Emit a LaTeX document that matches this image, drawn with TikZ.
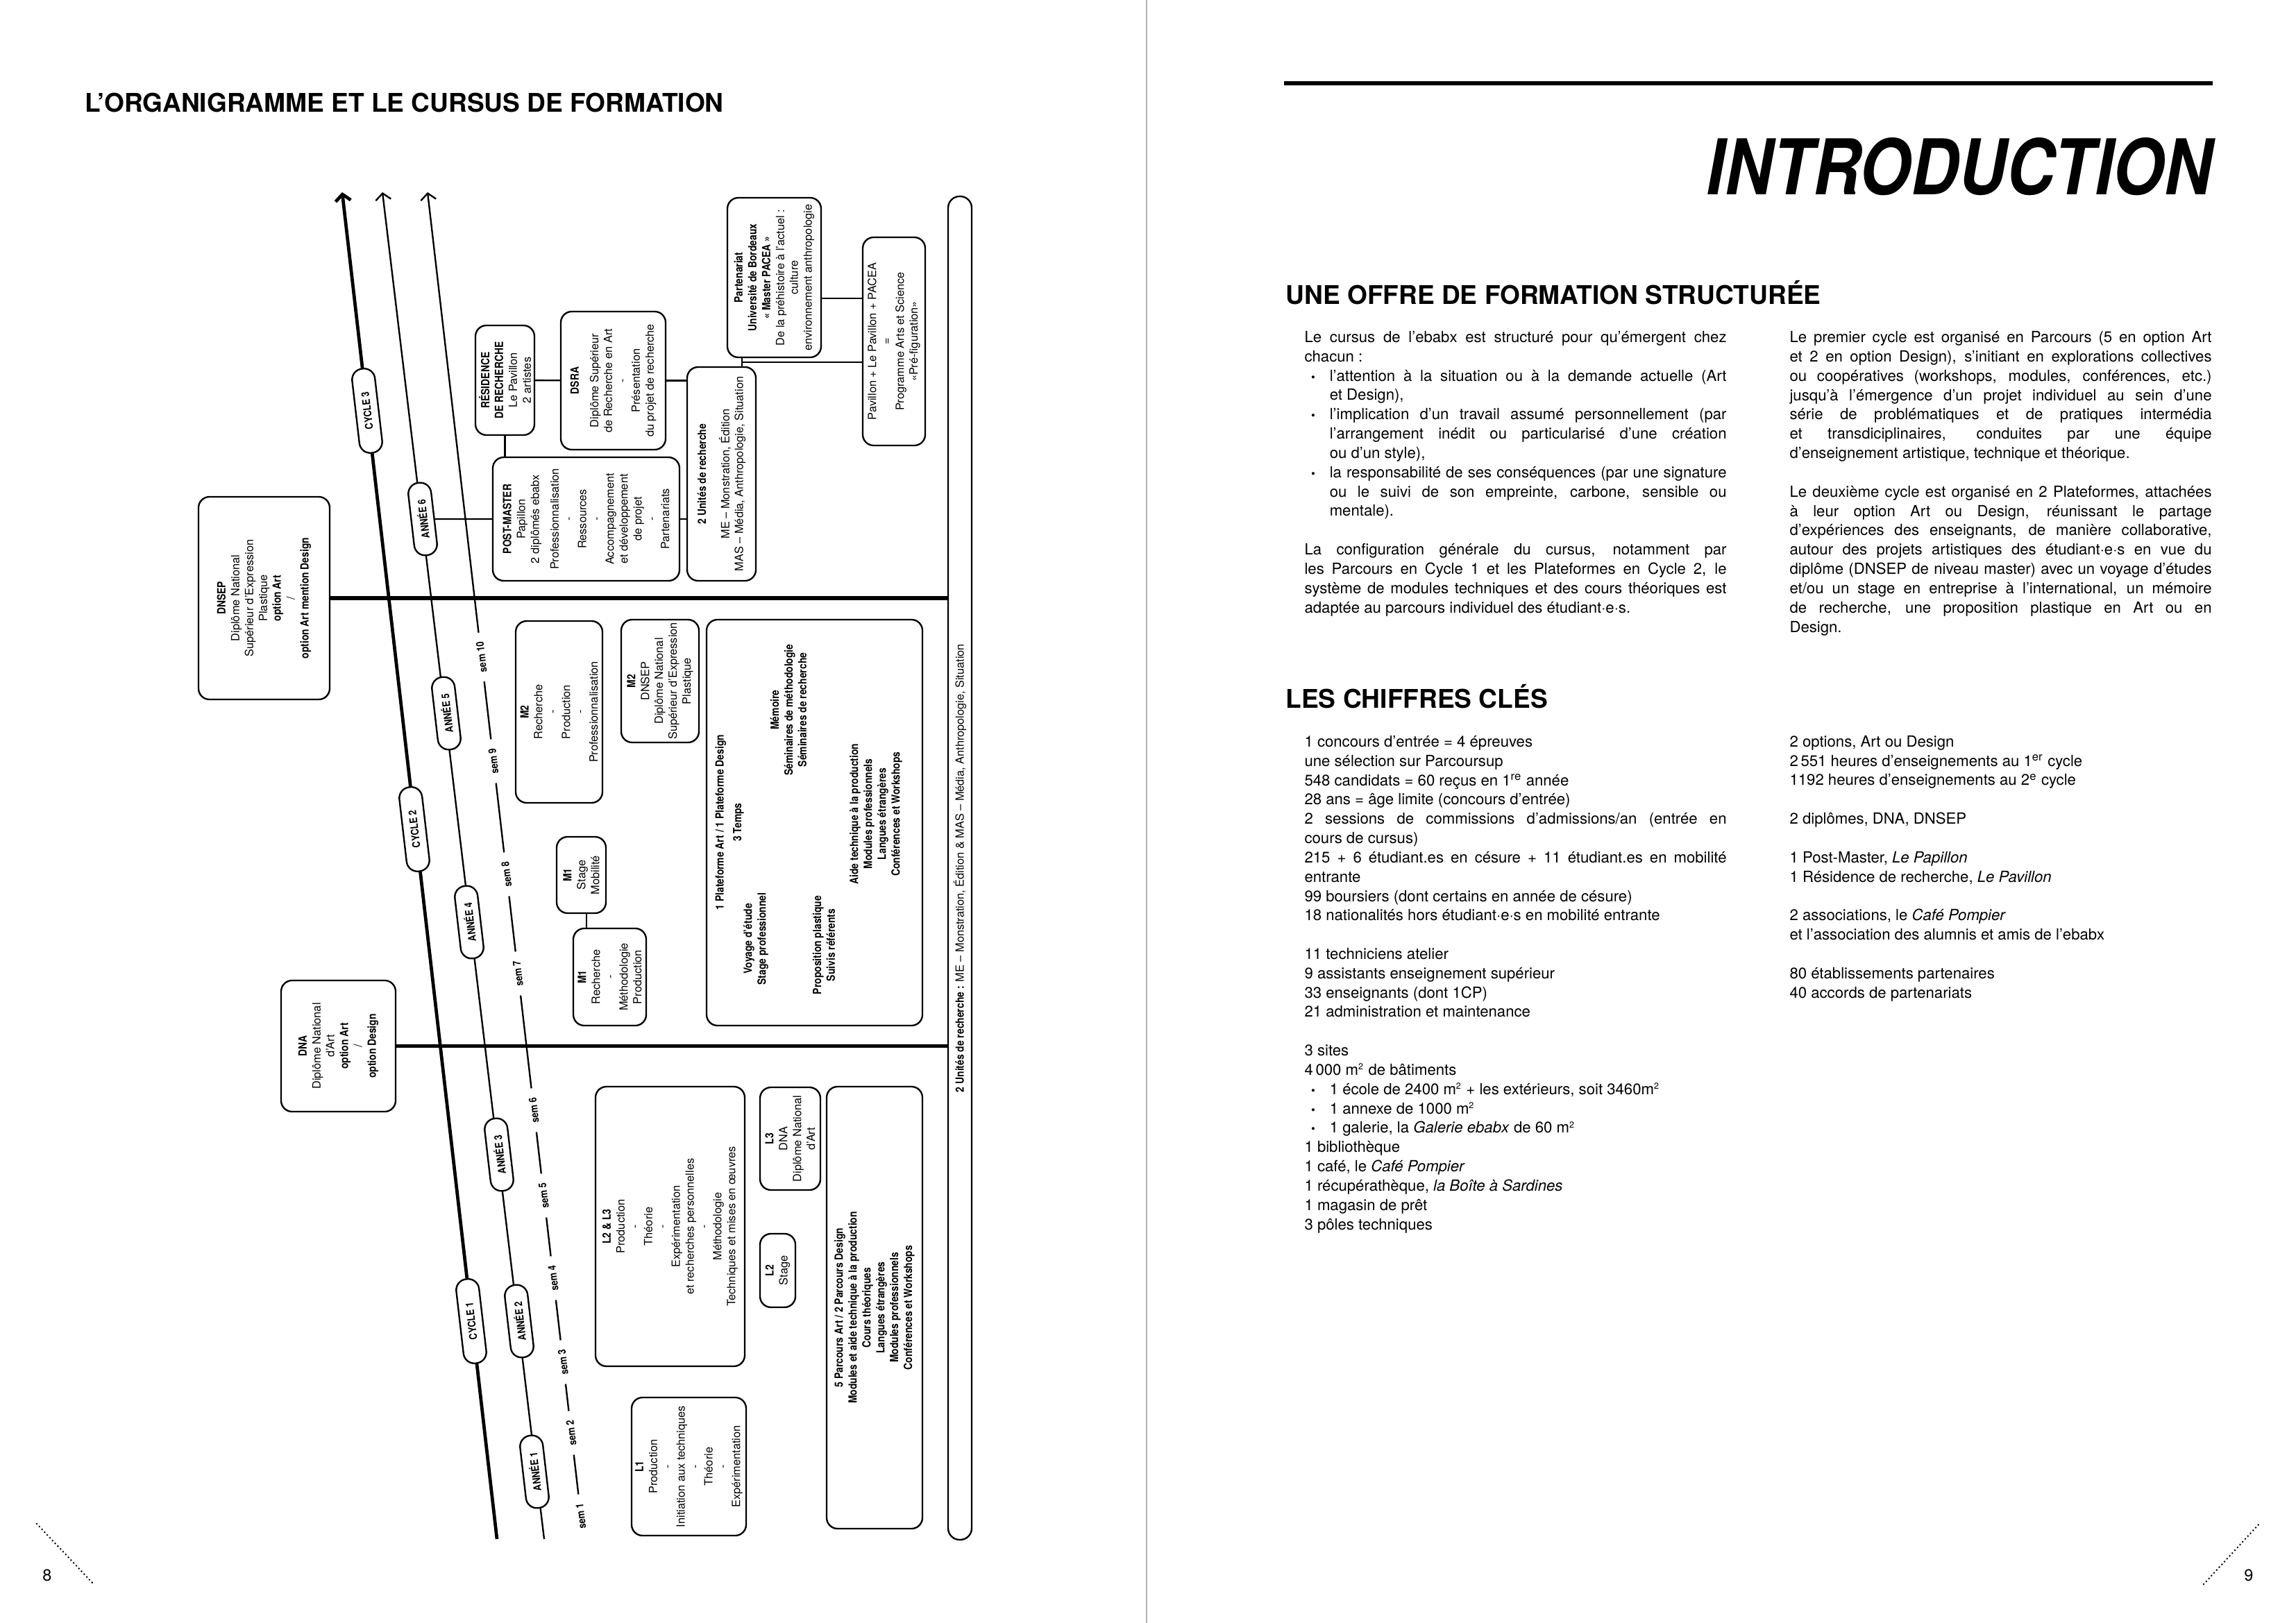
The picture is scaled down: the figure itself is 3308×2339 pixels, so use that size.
\documentclass[tikz,border=0pt]{standalone}
\usepackage{fontspec}
\setmainfont{TeX Gyre Heros}
\newfontfamily\condfont[FakeStretch=0.85]{TeX Gyre Heros}
\newfontfamily\introfont[FakeStretch=0.86]{TeX Gyre Heros}
\usetikzlibrary{arrows.meta}

\newcommand\pxu{0.12697mm}
\newcommand\diasize{\fontsize{5.9}{7.2}\selectfont}
\newcommand\bodysize{\fontsize{8}{10.05}\selectfont}
\newcommand\headsize{\fontsize{13.4}{16}\selectfont\bfseries}
\newcommand\boldline[1]{{\condfont\bfseries #1}}
\newcommand\sq{\textsuperscript{\fontsize{4.5}{5}\selectfont 2}}
\newlength\colw \setlength\colw{77.2mm}
\newlength\bulw \setlength\bulw{72.6mm}
\newcommand\rbul{\makebox[4.6mm][l]{\hspace{1.2mm}{\fontsize{6}{6}\selectfont\textbullet}}}
\newcommand\jline[1]{\makebox[\colw][s]{#1}}
\newcommand\jbul[1]{\rbul\makebox[\bulw][s]{#1}}
\newcommand\jind[1]{\hspace*{4.6mm}\makebox[\bulw][s]{#1}}

\begin{document}
\begin{tikzpicture}[x=\pxu, y=-\pxu,
  box/.style={draw, line width=0.3mm, rounded corners=2mm, rotate=90, align=center, inner sep=0pt, font=\diasize},
  bx/.style 2 args={box, minimum width=#1*\pxu, minimum height=#2*\pxu},
  pill/.style={draw, fill=white, line width=0.3mm, rounded corners=2mm, rotate=96.6, minimum width=#1*\pxu, minimum height=33*\pxu, inner sep=0pt},
  cycpill/.style={pill=122, font=\fontsize{5.5}{6}\selectfont\condfont\bfseries},
  anpill/.style={pill=105, font=\fontsize{5.5}{6}\selectfont\condfont\bfseries},
  semlbl/.style={fill=white, rotate=96.6, inner xsep=1.7mm, inner ysep=0.4mm, font=\fontsize{5.5}{6}\selectfont\condfont\bfseries},
  platlbl/.style={rotate=90, align=center, inner sep=0pt, font=\diasize\condfont\bfseries},
  link/.style={line width=0.3mm},
  hlink/.style={line width=0.7mm},
  textcol/.style={anchor=base west, align=left, inner sep=0pt, font=\bodysize},
  head/.style={anchor=base west, inner sep=0pt, font=\headsize},
  cornerdots/.style={line width=1pt, line cap=round, dash pattern=on 0pt off 2pt}]
\path[fill=white, use as bounding box] (0,0) rectangle (3308,2339);
\draw[gray!60, line width=0.4pt] (1652,0) -- (1652,2339);

% ---- left page
\node[head] (orgtitle) at (122,162) {L’ORGANIGRAMME ET LE CURSUS DE FORMATION};

% time lines
\draw[line width=0.6mm, {Straight Barb[length=1.2mm,width=2.8mm]}-] (493,277) coordinate (cyctop) -- (716,2218) coordinate (cycbot);
\draw[link, {Straight Barb[length=1.2mm,width=2.8mm]}-] (551,277) coordinate (antop) -- (784,2218) coordinate (anbot);
\draw[link, {Straight Barb[length=1.2mm,width=2.8mm]}-] (616,277) coordinate (semtop) -- (837,2185) coordinate (sembot);

% boxes
\node[bx={1936}{34}, rounded corners=2.1mm] (bar) at (1383,1251)
  {\boldline{2 Unités de recherche :} ME – Monstration, Édition \& MAS – Média, Anthropologie, Situation};
\node[bx={292}{189}] (dnsep) at (380.5,862)
  {\boldline{DNSEP}\\Diplôme National\\Supérieur d’Expression\\Plastique\\\boldline{option Art}\\/\\\boldline{option Art mention Design}};
\node[bx={189}{165}] (dna) at (487.5,1507.5)
  {\boldline{DNA}\\Diplôme National\\d’Art\\\boldline{option Art}\\/\\\boldline{option Design}};
\node[bx={158}{85}] (res) at (727.5,548)
  {\boldline{RÉSIDENCE}\\\boldline{DE RECHERCHE}\\Le Pavillon\\2 artistes};
\node[bx={199}{151}] (dsra) at (883.5,548.5)
  {\boldline{DSRA}\\[3pt]Diplôme Supérieur\\de Recherche en Art\\-\\Présentation\\du projet de recherche};
\node[bx={178}{269}] (post) at (844.5,748)
  {\boldline{POST-MASTER}\\Papillon\\2 diplômés ebabx\\[3pt]Professionnalisation\\-\\Ressources\\-\\Accompagnement\\et développement\\de projet\\-\\Partenariats};
\node[bx={308}{99}] (unites) at (1039.5,683)
  {\boldline{2 Unités de recherche}\\[5pt]ME – Monstration, Édition\\MAS – Média, Anthropologie, Situation};
\node[bx={230}{135}] (part) at (1115.5,400)
  {\boldline{Partenariat}\\\boldline{Université de Bordeaux}\\\boldline{« Master PACEA »}\\De la préhistoire à l’actuel :\\culture\\environnement anthropologie};
\node[bx={300}{90}] (pav) at (1288,492)
  {Pavillon + Le Pavillon + PACEA\\=\\Programme Arts et Science\\«Pré-figuration»};
\node[bx={262}{125}] (m2a) at (805.5,1026)
  {\boldline{M2}\\Recherche\\-\\Production\\-\\Professionnalisation};
\node[bx={177}{112}] (m2b) at (951,981.5)
  {\boldline{M2}\\DNSEP\\Diplôme National\\Supérieur d’Expression\\Plastique};
\node[bx={110}{71}] (m1s) at (837.5,1261) {\boldline{M1}\\Stage\\Mobilité};
\node[bx={140}{105}] (m1r) at (878.5,1408)
  {\boldline{M1}\\Recherche\\-\\Méthodologie\\Production};
\node[bx={585}{311}] (plat) at (1173.5,1185.5) {};
\node[platlbl] (platT) at (1051,1185) {1 Plateforme Art / 1 Plateforme Design\\[2pt]3 Temps};
\node[platlbl] (platV) at (1089,1353) {Voyage d’étude\\Stage professionnel};
\node[platlbl] (platM) at (1136,1023) {Mémoire\\Séminaires de méthodologie\\Séminaires de recherche};
\node[platlbl] (platP) at (1187,1362) {Proposition plastique\\Suivis référents};
\node[platlbl] (platA) at (1262,1173) {Aide technique à la production\\Modules professionnels\\Langues étrangères\\Conférences et Workshops};
\node[bx={403}{215}] (l23) at (965.5,1767.5)
  {\boldline{L2 \& L3}\\Production\\-\\Théorie\\-\\Expérimentation\\et recherches personnelles\\-\\Méthodologie\\Techniques et mises en œuvres};
\node[bx={148}{87}] (l3) at (1138.5,1641) {\boldline{L3}\\DNA\\Diplôme National\\d’Art};
\node[bx={106}{51}] (l2) at (1120.5,1831) {\boldline{L2}\\Stage};
\node[bx={637}{138}, font=\diasize\condfont\bfseries] (parc) at (1260,1884.5)
  {5 Parcours Art / 2 Parcours Design\\Modules et aide technique à la production\\Cours théoriques\\Langues étrangères\\Modules professionnels\\Conférences et Workshops};
\node[bx={199}{165}] (l1) at (992.5,2113.5)
  {\boldline{L1}\\Production\\-\\Initiation aux techniques\\-\\Théorie\\-\\Expérimentation};

% cycles, years, semesters
\foreach \n/\cx/\cy in {3/529/592, 2/597/1195, 1/679/1904}
  \node[cycpill] (c\n) at (\cx,\cy) {CYCLE \n};
\foreach \n/\ax/\ay in {6/609/748, 5/643/1028, 4/676/1329, 3/719/1664, 2/748/1904, 1/770/2121}
  \node[anpill] (a\n) at (\ax,\ay) {ANNÉE \n};
\foreach \n/\sy in {10/947, 9/1097, 8/1260, 7/1403, 6/1600, 5/1723, 4/1842, 3/1963, 2/2065, 1/2185} {
  \pgfmathsetmacro\sx{616+0.1158*(\sy-277)}
  \node[semlbl] (s\n) at (\sx,\sy) {sem \n};
}

% connectors
\coordinate (pj) at (1069,522);
\coordinate (pk) at (0,430);
\coordinate (mk) at (845,0);
\draw[hlink] (dnsep.south) -- (dnsep.south -| bar.north);
\draw[hlink] (dna.south) -- (dna.south -| bar.north);
\draw[link] (a6) -- (post);
\draw[link] (res) -- (dsra);
\draw[link] (res.west) -- (res.west |- post.east);
\draw[link] (dsra.south) -- (dsra.south -| unites.north);
\draw[link] (post.south) -- (post.south -| unites.north);
\draw[link] (part.west -| pj) -- (unites.east -| pj);
\draw[link] (pj) -- (pj -| pav.north);
\draw[link] (part.south |- pk) -- (pav.north |- pk);
\draw[link] (m1s.west -| mk) -- (m1r.east -| mk);

\draw[cornerdots] (53,2196) -- (135,2283);
\node[font=\fontsize{8.5}{10}\selectfont] (pg8) at (68,2270) {8};

% ---- right page (text nodes sit on the baseline of their last line)
\draw[line width=0.8mm] (1850,120) -- (3188,120);
\node[anchor=base east, inner sep=0pt, font=\introfont\bfseries\itshape\fontsize{40}{40}\selectfont] (intro) at (3188,280) {INTRODUCTION};
\node[head] (offre) at (1852,438) {UNE OFFRE DE FORMATION STRUCTURÉE};

\node[textcol] (col1) at (1879,883) {%
\jline{Le cursus de l’ebabx est structuré pour qu’émergent chez}\\
chacun :\\
\jbul{l’attention à la situation ou à la demande actuelle (Art}\\
\hspace*{4.6mm}et Design),\\
\jbul{l’implication d’un travail assumé personnellement (par}\\
\jind{l’arrangement inédit ou particularisé d’une création}\\
\hspace*{4.6mm}ou d’un style),\\
\jbul{la responsabilité de ses conséquences (par une signature}\\
\jind{ou le suivi de son empreinte, carbone, sensible ou}\\
\hspace*{4.6mm}mentale).\\[10.05pt]
\jline{La configuration générale du cursus, notamment par}\\
\jline{les Parcours en Cycle 1 et les Plateformes en Cycle 2, le}\\
\jline{système de modules techniques et des cours théoriques est}\\
adaptée au parcours individuel des étudiant·e·s.};

\node[textcol] (col2) at (2578,911) {%
\jline{Le premier cycle est organisé en Parcours (5 en option Art}\\
\jline{et 2 en option Design), s’initiant en explorations collectives}\\
\jline{ou coopératives (workshops, modules, conférences, etc.)}\\
\jline{jusqu’à l’émergence d’un projet individuel au sein d’une}\\
\jline{série de problématiques et de pratiques intermédia}\\
\jline{et transdiciplinaires, conduites par une équipe}\\
d’enseignement artistique, technique et théorique.\\[10.05pt]
\jline{Le deuxième cycle est organisé en 2 Plateformes, attachées}\\
\jline{à leur option Art ou Design, réunissant le partage}\\
\jline{d’expériences des enseignants, de manière collaborative,}\\
\jline{autour des projets artistiques des étudiant·e·s en vue du}\\
\jline{diplôme (DNSEP de niveau master) avec un voyage d’études}\\
\jline{et/ou un stage en entreprise à l’international, un mémoire}\\
\jline{de recherche, une proposition plastique en Art ou en}\\
Design.};

\node[head] (chiffres) at (1852,1020) {LES CHIFFRES CLÉS};

\node[textcol] (fig1) at (1879,1772) {%
1 concours d’entrée = 4 épreuves\\
une sélection sur Parcoursup\\
548 candidats = 60 reçus en 1\textsuperscript{re} année\\
28 ans = âge limite (concours d’entrée)\\
\jline{2 sessions de commissions d’admissions/an (entrée en}\\
cours de cursus)\\
\jline{215 + 6 étudiant.es en césure + 11 étudiant.es en mobilité}\\
entrante\\
99 boursiers (dont certains en année de césure)\\
18 nationalités hors étudiant·e·s en mobilité entrante\\[10.05pt]
11 techniciens atelier\\
9 assistants enseignement supérieur\\
33 enseignants (dont 1CP)\\
21 administration et maintenance\\[10.05pt]
3 sites\\
4\,000 m\sq{} de bâtiments\\
\rbul 1 école de 2400 m\sq{} + les extérieurs, soit 3460m\sq\\
\rbul 1 annexe de 1000 m\sq\\
\rbul 1 galerie, la \textit{Galerie ebabx} de 60 m\sq\\
1 bibliothèque\\
1 café, le \textit{Café Pompier}\\
1 récupérathèque, \textit{la Boîte à Sardines}\\
1 magasin de prêt\\
3 pôles techniques};

\node[textcol] (fig2) at (2578,1438) {%
2 options, Art ou Design\\
2\,551 heures d’enseignements au 1\textsuperscript{er} cycle\\
1192 heures d’enseignements au 2\textsuperscript{e} cycle\\[10.05pt]
2 diplômes, DNA, DNSEP\\[10.05pt]
1 Post-Master, \textit{Le Papillon}\\
1 Résidence de recherche, \textit{Le Pavillon}\\[10.05pt]
2 associations, le \textit{Café Pompier}\\
et l’association des alumnis et amis de l’ebabx\\[10.05pt]
80 établissements partenaires\\
40 accords de partenariats};

\draw[cornerdots] (3175,2283) -- (3255,2196);
\node[font=\fontsize{8.5}{10}\selectfont] (pg9) at (3240,2270) {9};
\end{tikzpicture}
\end{document}
